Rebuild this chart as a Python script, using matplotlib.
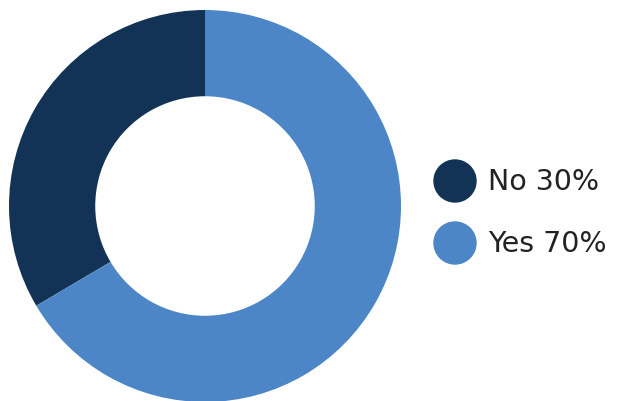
import matplotlib.pyplot as plt
from matplotlib.patches import Circle

W, H = 617, 401

labels = ['No 30%', 'Yes 70%']
# wedge shares (the drawn split is ~1/3 vs 2/3)
shares = [33.5, 66.5]
colours = ['#133356', '#4d86c6']

fig = plt.figure(figsize=(W / 100, H / 100), dpi=100)

# donut, centre ~ (205, 206) px, outer radius ~196 px
cx, cy, r = 205, 206, 196
ax = fig.add_axes([(cx - r) / W, (H - cy - r) / H, 2 * r / W, 2 * r / H])
ax.pie(shares, colors=colours, startangle=90, counterclock=True,
       radius=1, wedgeprops=dict(width=0.44, edgecolor='none'))
ax.set_xlim(-1, 1)
ax.set_ylim(-1, 1)
ax.axis('off')

# legend drawn by hand in pixel coords
lax = fig.add_axes([0, 0, 1, 1])
lax.set_xlim(0, W)
lax.set_ylim(H, 0)
lax.axis('off')
for i, (lab, col) in enumerate(zip(labels, colours)):
    y = 181 + i * 62
    lax.add_patch(Circle((455, y), 21, color=col))
    lax.text(488, y + 1, lab, fontsize=20.5, family='DejaVu Sans', color='#222222',
             va='center', ha='left')

fig.savefig('out.png', dpi=100)
